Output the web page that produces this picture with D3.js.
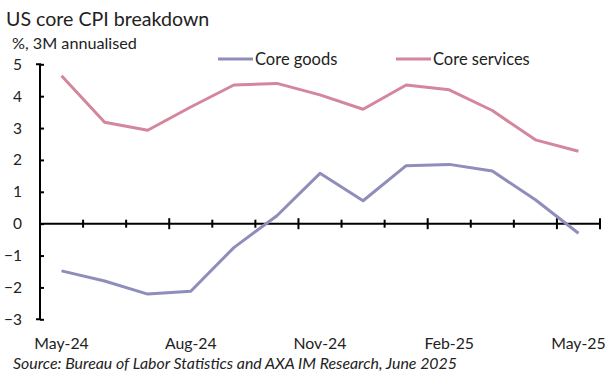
<!DOCTYPE html>
<html><head><meta charset="utf-8">
<script src="https://cdn.jsdelivr.net/npm/d3@7"></script>
<style>body{margin:0;background:#fff}svg{display:block}text{font-family:Lato,"Open Sans",sans-serif;fill:#222}</style>
</head><body><svg id="c" width="615" height="379"></svg>
<script>
const months = ["May-24","Jun-24","Jul-24","Aug-24","Sep-24","Oct-24","Nov-24","Dec-24","Jan-25","Feb-25","Mar-25","Apr-25","May-25"];
const coreGoods = [-1.48,-1.8,-2.21,-2.12,-0.75,0.25,1.58,0.72,1.82,1.86,1.65,0.75,-0.3];
const coreServices = [4.64,3.18,2.93,3.66,4.35,4.4,4.04,3.59,4.35,4.2,3.55,2.63,2.27];
const yTicks = [-3,-2,-1,0,1,2,3,4,5];
const xLabels = ["May-24","Aug-24","Nov-24","Feb-25","May-25"];

const svg = d3.select("#c");
const x = d3.scaleBand().domain(months).range([40,600]);
const y = d3.scaleLinear().domain([-3,5]).range([319.3,64.3]);

// title
svg.append("text").attr("x",6).attr("y",26).attr("font-size",19.6).text("US core CPI breakdown");
svg.append("text").attr("x",12).attr("y",49).attr("font-size",16.2).text("%, 3M annualised");

// y axis
const yAxis = d3.axisLeft(y).tickValues(yTicks).tickSize(4).tickFormat(d3.format("d"));
const gy = svg.append("g").attr("transform","translate(40,0)").call(yAxis);
gy.select(".domain").attr("stroke","#000").attr("stroke-width",2).attr("d","M-4,"+y(5)+"H0V"+y(-3)+"H-4");
gy.selectAll(".tick line").attr("stroke","#000").attr("stroke-width",2).attr("x1",0).attr("x2",4);
gy.selectAll(".tick text").attr("x",-18).attr("font-size",15.5).attr("font-family","Lato").attr("fill","#222");

// x axis at zero
const gx = svg.append("g").attr("transform","translate(0,"+y(0)+")");
gx.append("line").attr("x1",40).attr("x2",600).attr("stroke","#000").attr("stroke-width",2);
const bounds = d3.range(months.length+1).map(i => i < months.length ? x(months[i]) : x.range()[1]);
bounds.forEach((bx,i)=>{
  const major = i%3===0 || i===months.length;
  gx.append("line").attr("x1",bx).attr("x2",bx).attr("y1",major?-5.5:-4).attr("y2",major?5.5:4)
    .attr("stroke","#000").attr("stroke-width",2);
});
// x labels
xLabels.forEach(m=>{
  svg.append("text").attr("x",x(m)+x.bandwidth()/2).attr("y",349).attr("text-anchor","middle")
    .attr("font-size",15.8).text(m);
});

const line = d3.line().x((d,i)=>x(months[i])+x.bandwidth()/2).y(d=>y(d));
svg.append("path").datum(coreServices).attr("d",line).attr("fill","none").attr("stroke","#d4869c").attr("stroke-width",3).attr("stroke-linejoin","round");
svg.append("path").datum(coreGoods).attr("d",line).attr("fill","none").attr("stroke","#8f8dba").attr("stroke-width",3).attr("stroke-linejoin","round");

// legend
const leg = [{n:"Core goods",c:"#8f8dba",x:218},{n:"Core services",c:"#d4869c",x:396}];
leg.forEach(l=>{
  svg.append("line").attr("x1",l.x).attr("x2",l.x+35).attr("y1",59).attr("y2",59).attr("stroke",l.c).attr("stroke-width",3);
  svg.append("text").attr("x",l.x+37).attr("y",64.5).attr("font-size",16.5).text(l.n);
});

svg.append("text").attr("x",13).attr("y",369).attr("font-size",15.9).attr("font-style","italic")
  .text("Source: Bureau of Labor Statistics and AXA IM Research, June 2025");
</script></body></html>
